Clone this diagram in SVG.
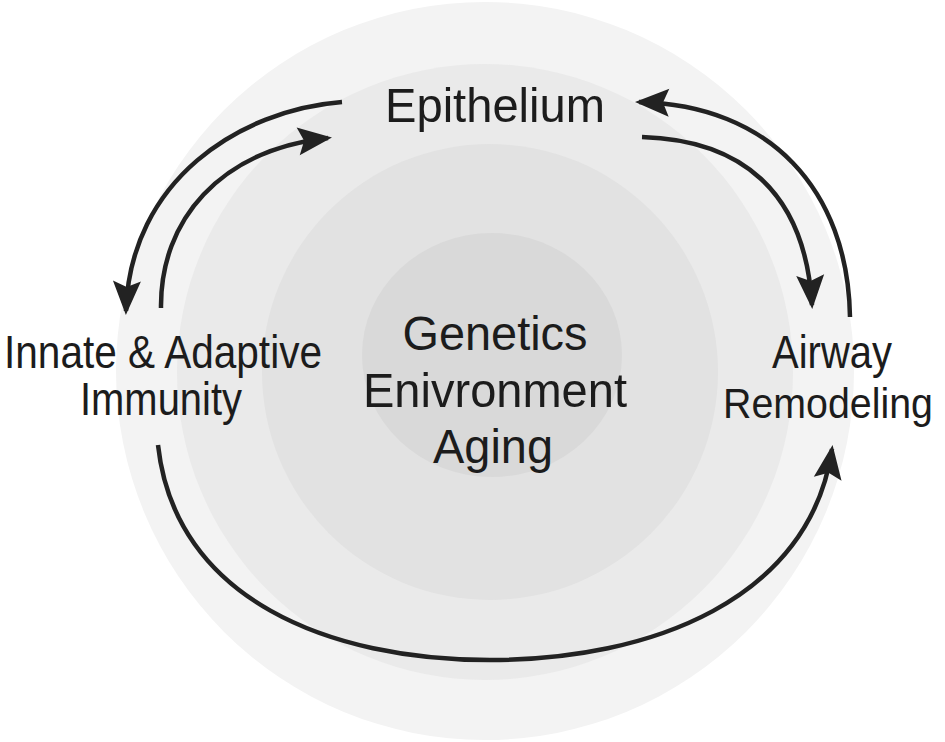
<svg xmlns="http://www.w3.org/2000/svg" width="945" height="742" viewBox="0 0 945 742">
<style>
text{font-family:"Liberation Sans",Arial,sans-serif;fill:#1c1c1c;text-anchor:middle}
.c{font-size:49px}
.s{font-size:46px}
.r{font-size:42px}
.arr{fill:none;stroke:#222;stroke-width:4.5}
</style>
<defs>
<marker id="ah" markerUnits="userSpaceOnUse" markerWidth="40" markerHeight="34" viewBox="-2 -17 40 34" refX="30" refY="0" orient="auto">
<path d="M0,-14 L34,0 L0,14 L6,0 Z" fill="#222"/>
</marker>
</defs>
<rect width="945" height="742" fill="#fff"/>
<g id="background">
<circle cx="485" cy="371" r="369" fill="#f3f3f3"/>
<circle cx="485" cy="372" r="308" fill="#eaeaea"/>
<circle cx="490" cy="372" r="228" fill="#e2e2e2"/>
<ellipse cx="492" cy="355" rx="130" ry="122" fill="#d9d9d9"/>
</g>
<g id="connectors">
<path class="arr" d="M342,102 C240,110 130,180 126,311" marker-end="url(#ah)"/>
<path class="arr" d="M161,308 C160,220 220,150 328,138" marker-end="url(#ah)"/>
<path class="arr" d="M850,317 C848,190 770,105 639,102" marker-end="url(#ah)"/>
<path class="arr" d="M642,137 C740,140 805,190 812,305" marker-end="url(#ah)"/>
<path class="arr" d="M158,445 C175,600 330,660 490,660 C650,660 810,600 832,449" marker-end="url(#ah)"/>
</g>
<g id="epithelium"><text class="c" x="495" y="122" textLength="220" lengthAdjust="spacingAndGlyphs">Epithelium</text></g>
<g id="center"><text class="c" x="495" y="350" textLength="185" lengthAdjust="spacingAndGlyphs">Genetics</text>
<text class="c" x="495" y="407" textLength="264" lengthAdjust="spacingAndGlyphs">Enivronment</text>
<text class="c" x="493" y="463" textLength="120" lengthAdjust="spacingAndGlyphs">Aging</text></g>
<g id="immunity"><text class="s" x="163" y="368" textLength="318" lengthAdjust="spacingAndGlyphs">Innate &amp; Adaptive</text>
<text class="s" x="161" y="415" textLength="162" lengthAdjust="spacingAndGlyphs">Immunity</text></g>
<g id="airway"><text class="s" x="832" y="368" textLength="120" lengthAdjust="spacingAndGlyphs">Airway</text>
<text class="r" x="828" y="418" textLength="210" lengthAdjust="spacingAndGlyphs">Remodeling</text></g>
</svg>
